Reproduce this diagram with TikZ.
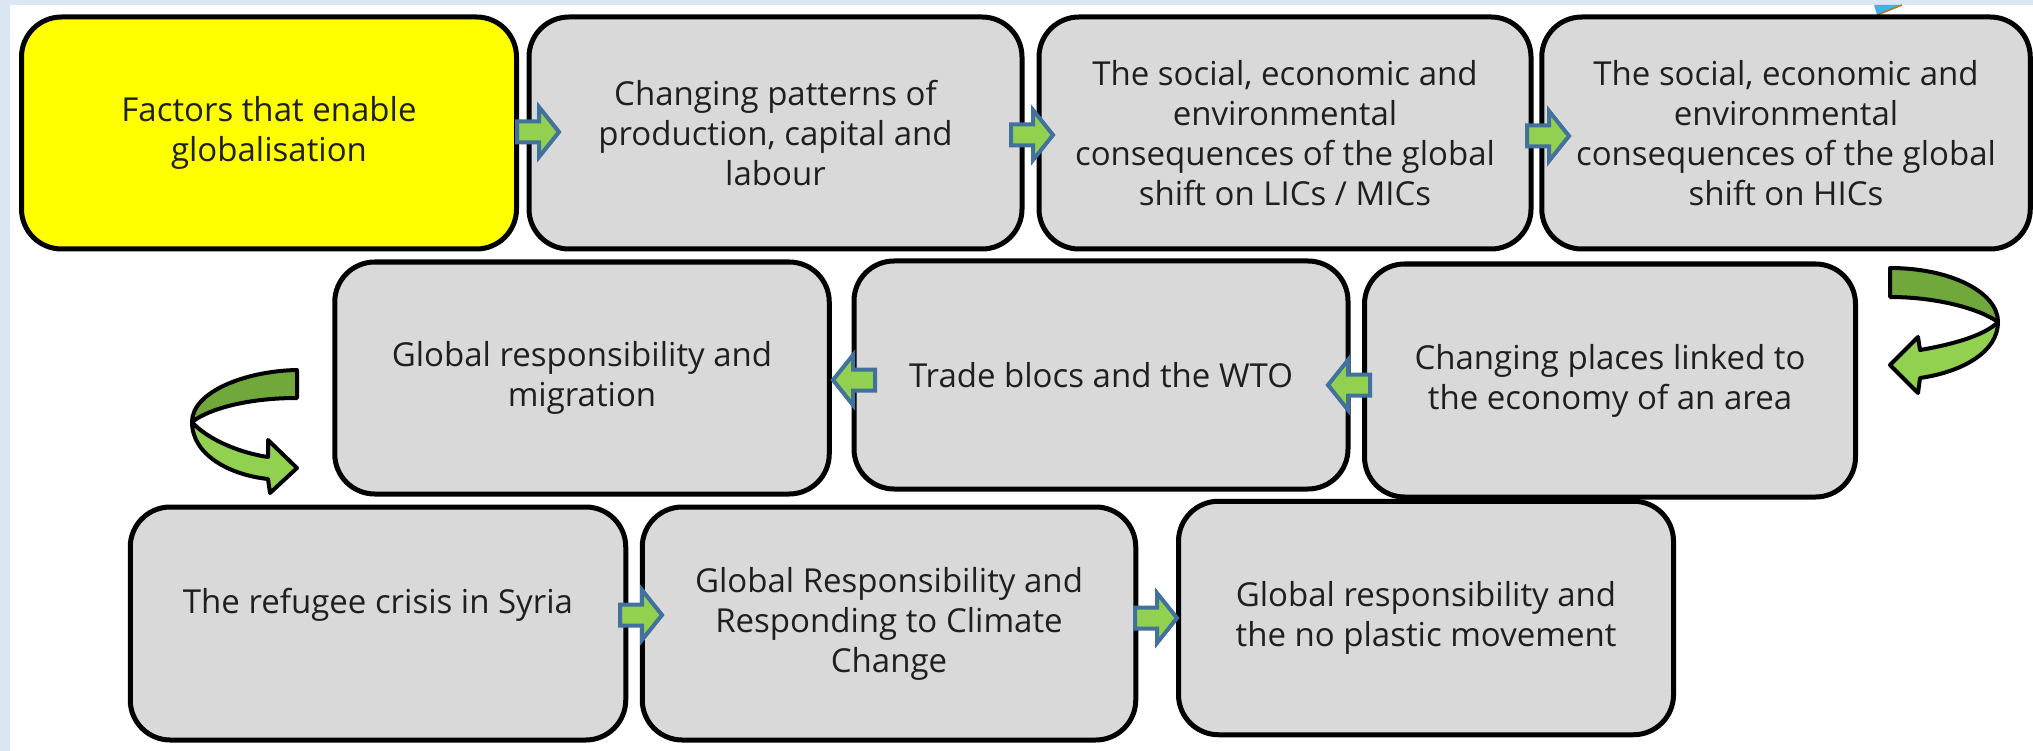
\documentclass[tikz,border=0pt]{standalone}
\usepackage{fontspec}
\setmainfont{Open Sans}
\usetikzlibrary{calc}
\definecolor{boxgray}{HTML}{D9D9D9}
\definecolor{boxyellow}{HTML}{FFFF00}
\definecolor{arrblue}{HTML}{41719C}
\definecolor{arrgreen}{HTML}{92D050}
\definecolor{darkgreen}{HTML}{70A83B}
\definecolor{stripblue}{HTML}{DCE6F2}
\definecolor{tricyan}{HTML}{3CB4E5}
\definecolor{triorange}{HTML}{C0712B}
\tikzset{
  card/.style={draw=black, line width=5pt, rounded corners=40pt, fill=boxgray,
    align=center, text=black!88, font=\fontsize{33}{40}\selectfont, inner sep=0pt},
  arrowshape/.style={draw=arrblue, fill=arrgreen, line width=4pt, line join=miter},
  band/.style={draw=black, line width=4pt, line join=round},
  rarr/.pic={\path[arrowshape] (0,-10.5) -- (22,-10.5) -- (22,-25) -- (42,0) -- (22,25) -- (22,10.5) -- (0,10.5) -- cycle;},
}
\begin{document}
\begin{tikzpicture}[x=1pt,y=-1pt]
\useasboundingbox (0,0) rectangle (2033,751);
\fill[white] (0,0) rectangle (2033,751);
\fill[stripblue] (0,0) rectangle (2033,5);
\fill[stripblue] (0,0) rectangle (10,751);
% small cut-off shape at the top
\fill[tricyan] (1874,5) -- (1902,5) -- (1877,15) -- cycle;
\draw[triorange, line width=1.5pt] (1877,15) -- (1902,5);

% row 1
\node[card, fill=boxyellow, minimum width=495pt, minimum height=232pt] (b1) at (269,133) {Factors that enable\\globalisation};
\node[card, minimum width=493pt, minimum height=232pt] (b2) at (775.5,133) {Changing patterns of\\production, capital and\\labour};
\node[card, minimum width=492pt, minimum height=232pt] (b3) at (1285,133) {The social, economic and\\environmental\\consequences of the global\\shift on LICs / MICs};
\node[card, minimum width=488.5pt, minimum height=232pt] (b4) at (1786,133) {The social, economic and\\environmental\\consequences of the global\\shift on HICs};
% row 2
\node[card, minimum width=494.5pt, minimum height=232pt] (b5) at (582,378) {Global responsibility and\\migration};
\node[card, minimum width=494pt, minimum height=228pt] (b6) at (1101,375) {Trade blocs and the WTO};
\node[card, minimum width=491pt, minimum height=233pt] (b7) at (1610,380.5) {Changing places linked to\\the economy of an area};
% row 3
\node[card, minimum width=495.5pt, minimum height=233pt, text depth=46pt] (b8) at (378,623.5) {The refugee crisis in Syria};
\node[card, minimum width=493.5pt, minimum height=233pt] (b9) at (889,623.5) {Global Responsibility and\\Responding to Climate\\Change};
\node[card, minimum width=495pt, minimum height=233.5pt] (b10) at (1426,618) {Global responsibility and\\the no plastic movement};

% block arrows between the boxes
\pic at ($(b1.east)+(-2,-1)$) {rarr};
\pic at ($(b2.east)+(-13.5,2)$) {rarr};
\pic at ($(b3.east)+(-6.5,3)$) {rarr};
\pic[xscale=-1] at ($(b7.west)+(8,4.5)$) {rarr};
\pic[xscale=-1] at ($(b6.west)+(23.5,5)$) {rarr};
\pic at ($(b8.east)+(-8.25,-8.5)$) {rarr};
\pic at ($(b9.east)+(-3.25,-5.5)$) {rarr};

% curved arrow on the right (row 1 -> row 2)
\filldraw[band, fill=darkgreen] (1890,268) .. controls (1950,268) and (1998,292) .. (1998,322)
  .. controls (1978,308) and (1935,297) .. (1890,297) -- cycle;
\filldraw[band, fill=arrgreen] (1998,322) .. controls (1998,352) and (1962,372) .. (1920,378)
  -- (1918,393) -- (1890,365) -- (1918,337) -- (1920,350)
  .. controls (1955,344) and (1985,335) .. (1998,322) -- cycle;

% curved arrow on the left (row 2 -> row 3)
\filldraw[band, fill=darkgreen] (297,370) .. controls (245,371) and (192,392) .. (192,422)
  .. controls (210,408) and (250,398) .. (297,398) -- cycle;
\filldraw[band, fill=arrgreen] (192,422) .. controls (192,455) and (230,475) .. (268,479)
  -- (270,493) -- (297,468) -- (268,440) -- (268,457)
  .. controls (235,452) and (205,437) .. (192,422) -- cycle;
\end{tikzpicture}
\end{document}
